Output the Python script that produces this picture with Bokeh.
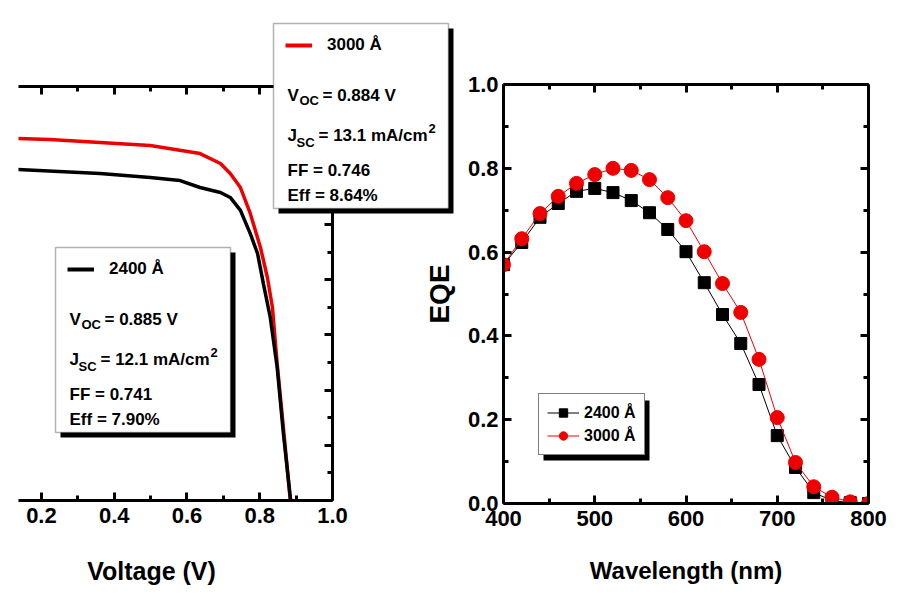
from bokeh.plotting import figure
from bokeh.layouts import row
from bokeh.models import (Range1d, LinearAxis, FixedTicker, Label, BoxAnnotation,
                          Legend, LegendItem, PrintfTickFormatter)
from bokeh.embed import file_html
from bokeh.resources import INLINE

# ---------------- data ----------------
# J-V curves (current density magnitude, mA/cm^2)
v_3000 = [0.0, 0.135, 0.223, 0.361, 0.499, 0.636, 0.692, 0.719, 0.747, 0.774, 0.802, 0.821, 0.835, 0.848, 0.866, 0.884]
j_3000 = [13.17, 13.12, 13.08, 12.97, 12.86, 12.57, 12.21, 11.85, 11.34, 10.40, 9.17, 8.08, 6.99, 4.95, 2.50, 0.0]
v_2400 = [0.0, 0.135, 0.361, 0.499, 0.581, 0.636, 0.692, 0.719, 0.747, 0.774, 0.794, 0.810, 0.829, 0.848, 0.865, 0.885]
j_2400 = [12.05, 11.99, 11.85, 11.70, 11.59, 11.34, 11.16, 10.98, 10.51, 9.67, 8.95, 7.86, 6.63, 4.82, 2.43, 0.0]

# EQE spectra
wavelength = [400, 420, 440, 460, 480, 500, 520, 540, 560, 580, 600, 620, 640, 660, 680, 700, 720, 740, 760, 780, 800]
eqe_2400 = [0.570, 0.623, 0.683, 0.716, 0.745, 0.752, 0.742, 0.723, 0.694, 0.654, 0.601, 0.527, 0.451, 0.382,
            0.284, 0.162, 0.086, 0.026, 0.007, 0.002, 0.000]
eqe_3000 = [0.570, 0.632, 0.692, 0.733, 0.764, 0.785, 0.800, 0.795, 0.773, 0.730, 0.675, 0.601, 0.525, 0.456,
            0.344, 0.205, 0.098, 0.040, 0.015, 0.004, 0.000]

# tick values
v_major = [0.2, 0.4, 0.6, 0.8, 1.0]
v_minor = [0.3, 0.5, 0.7, 0.9]
j_major = [0, 2, 4, 6, 8, 10, 12, 14]
j_minor = [1, 3, 5, 7, 9, 11, 13, 15]
wl_major = [400, 500, 600, 700, 800]
wl_minor = [450, 550, 650, 750]
eqe_major = [0.0, 0.2, 0.4, 0.6, 0.8, 1.0]
eqe_minor = [0.1, 0.3, 0.5, 0.7, 0.9]

# device parameters
devices = [
    {"name": "3000 \u00c5", "voc": "0.884", "jsc": "13.1", "ff": "0.746", "eff": "8.64%"},
    {"name": "2400 \u00c5", "voc": "0.885", "jsc": "12.1", "ff": "0.741", "eff": "7.90%"},
]

FONT = "Liberation Sans"
RED = "#ee0000"
H = 600


def style_axis(ax, show_labels=True, size="22px"):
    ax.axis_line_width = 3
    ax.axis_line_color = "black"
    ax.major_tick_line_width = 3
    ax.minor_tick_line_width = 3
    ax.major_tick_in = 8
    ax.major_tick_out = 0
    ax.minor_tick_in = 5
    ax.minor_tick_out = 0
    ax.major_label_text_font = FONT
    ax.major_label_text_font_size = size
    ax.major_label_text_font_style = "bold"
    ax.major_label_text_color = "black"
    ax.major_label_standoff = 7
    ax.axis_label_text_color = "black"
    ax.axis_label_text_font = FONT
    ax.axis_label_text_font_style = "bold"
    if not show_labels:
        ax.major_label_overrides = {float(t): "" for t in ax.ticker.ticks + ax.ticker.minor_ticks}


# ---------------- left: J-V ----------------
left = figure(width=460, height=H, x_range=Range1d(0.137, 1.0), y_range=Range1d(0, 15),
              output_backend="svg", toolbar_location=None, x_axis_location=None, y_axis_location=None,
              min_border_left=18, min_border_right=128, min_border_top=86, min_border_bottom=H - 500,
              frame_align=False)
left.grid.visible = False
left.outline_line_color = None
left.background_fill_color = "white"
left.border_fill_color = "white"

bot_l = LinearAxis(ticker=FixedTicker(ticks=v_major, minor_ticks=v_minor),
                   formatter=PrintfTickFormatter(format="%.1f"))
style_axis(bot_l)
left.add_layout(bot_l, "below")
top_l = LinearAxis(ticker=FixedTicker(ticks=v_major, minor_ticks=v_minor))
style_axis(top_l, show_labels=False)
left.add_layout(top_l, "above")
right_l = LinearAxis(ticker=FixedTicker(ticks=j_major, minor_ticks=j_minor))
style_axis(right_l, show_labels=False)
left.add_layout(right_l, "right")

left.line(v_3000, j_3000, line_color=RED, line_width=3.5)
left.line(v_2400, j_2400, line_color="black", line_width=3.5)

# ---------------- overlay (annotation boxes drawn above the J-V panel) ----------------
over = figure(width=460, height=H, x_range=Range1d(0.137, 1.0), y_range=Range1d(0, 15),
              output_backend="svg", toolbar_location=None, x_axis_location=None, y_axis_location=None,
              min_border=0, margin=(0, 0, 0, -460), frame_align=False)
over.grid.visible = False
over.outline_line_color = None
over.background_fill_alpha = 0
over.border_fill_alpha = 0


def scr_box(l, r, t, b, **kw):
    return BoxAnnotation(left=l, right=r, top=t, bottom=b, left_units="screen", right_units="screen",
                         top_units="screen", bottom_units="screen", **kw)


def lab(x, y, text, size="17px", align="left"):
    return Label(x=x, y=H - y, x_units="screen", y_units="screen", text=text, text_font=FONT,
                 text_font_size=size, text_font_style="bold", text_align=align,
                 text_baseline="alphabetic", text_color="black")


over.add_layout(lab(151, 570, "Voltage (V)", "25px", "center"))

# legend keys: hidden copies of the J-V curves (only their style is used by the legends)
keys = [over.line(v_3000, j_3000, line_color=RED, line_width=4, visible=False),
        over.line(v_2400, j_2400, line_color="black", line_width=4, visible=False)]

offsets = [(0, 0), (-218, 224)]
for dev, (dx, dy), key in zip(devices, offsets, keys):
    over.add_layout(scr_box(278 + dx, 453 + dx, H - (28 + dy), H - (213 + dy),
                            fill_color="black", fill_alpha=1, line_color=None))
    over.add_layout(scr_box(273 + dx, 448 + dx, H - (23 + dy), H - (208 + dy),
                            fill_color="white", fill_alpha=1, line_color="black", line_width=1.5))
    lg = Legend(items=[LegendItem(label=dev["name"], renderers=[key])],
                location=(285 + dx, H - (55 + dy)),
                padding=0, margin=0, border_line_color=None, background_fill_alpha=0,
                glyph_width=27, glyph_height=20, label_height=20, label_standoff=15,
                label_text_font=FONT, label_text_font_size="17px", label_text_font_style="bold",
                label_text_color="black")
    over.add_layout(lg)
    over.add_layout(lab(287 + dx, 95 + dy, "V"))
    over.add_layout(lab(299 + dx, 100 + dy, "OC", "13px"))
    over.add_layout(lab(322 + dx, 95 + dy, "= " + dev["voc"] + " V"))
    over.add_layout(lab(287 + dx, 135 + dy, "J"))
    over.add_layout(lab(296 + dx, 142 + dy, "SC", "13px"))
    over.add_layout(lab(318 + dx, 135 + dy, "= " + dev["jsc"] + " mA/cm"))
    over.add_layout(lab(428 + dx, 128 + dy, "2", "13px"))
    over.add_layout(lab(287 + dx, 170 + dy, "FF = " + dev["ff"]))
    over.add_layout(lab(287 + dx, 195 + dy, "Eff = " + dev["eff"]))

# ---------------- right: EQE ----------------
right = figure(width=475, height=H, x_range=Range1d(400, 800), y_range=Range1d(0, 1.0),
               output_backend="svg", toolbar_location=None, x_axis_location=None, y_axis_location=None,
               min_border_left=82, min_border_right=27, min_border_top=84, min_border_bottom=H - 503,
               margin=(0, 0, 0, -40), frame_align=False)
right.grid.visible = False
right.outline_line_color = None
right.border_fill_alpha = 0
right.background_fill_color = "white"

bot_r = LinearAxis(ticker=FixedTicker(ticks=wl_major, minor_ticks=wl_minor),
                   axis_label="Wavelength (nm)")
style_axis(bot_r)
bot_r.axis_label_text_font_size = "24px"
bot_r.axis_label_standoff = 28
right.add_layout(bot_r, "below")
left_r = LinearAxis(ticker=FixedTicker(ticks=eqe_major, minor_ticks=eqe_minor),
                    formatter=PrintfTickFormatter(format="%.1f"), axis_label="EQE")
style_axis(left_r)
left_r.major_label_standoff = 5
left_r.axis_label_text_font_size = "28px"
left_r.axis_label_standoff = 10
right.add_layout(left_r, "left")
top_r = LinearAxis(ticker=FixedTicker(ticks=wl_major, minor_ticks=wl_minor))
style_axis(top_r, show_labels=False)
right.add_layout(top_r, "above")
right_r = LinearAxis(ticker=FixedTicker(ticks=eqe_major, minor_ticks=eqe_minor))
style_axis(right_r, show_labels=False)
right.add_layout(right_r, "right")

l_blk = right.line(wavelength, eqe_2400, line_color="black", line_width=1)
s_blk = right.scatter(wavelength, eqe_2400, marker="square", size=12, fill_color="black", line_color="black")
l_red = right.line(wavelength, eqe_3000, line_color=RED, line_width=1)
s_red = right.scatter(wavelength, eqe_3000, marker="circle", size=14, fill_color=RED, line_color=RED)

right.add_layout(scr_box(40, 146, 103, 43, fill_color="black", fill_alpha=1, line_color=None))
leg_r = Legend(items=[LegendItem(label="2400 \u00c5", renderers=[l_blk, s_blk]),
                      LegendItem(label="3000 \u00c5", renderers=[l_red, s_red])],
               location=(35, 48), padding=8, spacing=2, margin=0,
               glyph_width=32, glyph_height=21, label_height=21, label_standoff=5,
               border_line_color="black", border_line_width=1.5,
               background_fill_color="white", background_fill_alpha=1,
               label_text_font=FONT, label_text_font_size="16px", label_text_font_style="bold",
               label_text_color="black")
right.add_layout(leg_r)

layout = row(left, over, right)
open("out.html", "w").write(file_html(layout, INLINE))
